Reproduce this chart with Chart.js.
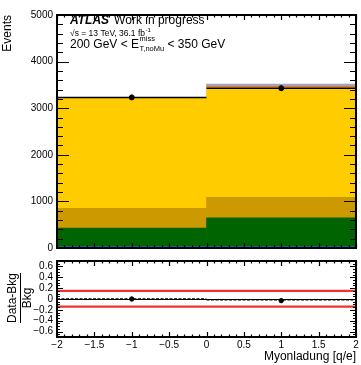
<!DOCTYPE html>
<html>
<head>
<meta charset="utf-8">
<style>
  body { margin: 0; background: #fff; }
  #wrap { position: relative; width: 361px; height: 365px; }
  #top { position: absolute; left: 0; top: 0; }
  #bottom { position: absolute; left: 0; top: 250px; }
</style>
</head>
<body>
<div id="wrap">
  <canvas id="top" width="361" height="258"></canvas>
  <canvas id="bottom" width="361" height="115"></canvas>
</div>

<script src="https://cdn.jsdelivr.net/npm/chart.js@4"></script>
<script>
// binning
const binEdges = [-2, 0, 2];
const binCenters = [-1, 1];

// stacked backgrounds, bottom to top (events per bin)
const bkgBlue = [30, 30];
const bkgGreen = [400, 615];
const bkgGold = [420, 440];
const bkgYellow = [2370, 2360];
const bkgRed = [3, 25];
const bkgGray = [2, 45];

// data
const dataValues = [3232, 3430];
const dataErrors = [57, 59];

// ratio panel
const ratioValues = [0.0, -0.03];
const ratioErrors = [0.018, 0.018];
const ratioLine = [0.0, -0.012];
const bandUp = [0.15, 0.15];
const bandDown = [-0.14, -0.14];

// ticks
const xTicks = [-2, -1.5, -1, -0.5, 0, 0.5, 1, 1.5, 2];
const yTicks = [0, 1000, 2000, 3000, 4000, 5000];
const ratioTicks = [-0.6, -0.4, -0.2, 0, 0.2, 0.4, 0.6];

const FONT = "'Liberation Sans', Arial, Helvetica, sans-serif";
Chart.defaults.font.family = FONT;
Chart.defaults.color = '#000';

function fmt(v) {
  if (Math.abs(v) < 1e-9) return '0';
  return String(+v.toFixed(2)).replace('-', '\u2212');
}

// horizontal segment per bin, gaps between bins
function binSegments(vals) {
  const pts = [];
  vals.forEach((v, i) => {
    pts.push({x: binEdges[i], y: v});
    pts.push({x: binEdges[i + 1], y: v});
    pts.push({x: binEdges[i + 1], y: null});
  });
  return pts;
}

function minorVals(min, max, step) {
  const out = [];
  const n = Math.round((max - min) / step);
  for (let i = 0; i <= n; i++) out.push(min + i * step);
  return out;
}

// frame + inward ticks on all four sides
function frameTicks(cfg) {
  return {
    id: 'frameTicks',
    afterDatasetsDraw(chart) {
      const {ctx, chartArea: a, scales} = chart;
      const sx = scales.x, sy = scales.y;
      ctx.save();
      ctx.strokeStyle = '#000';
      ctx.lineWidth = 1.2;
      ctx.beginPath();
      const xMin = minorVals(sx.min, sx.max, cfg.xMinor);
      const yMin = minorVals(cfg.yLo, sy.max, cfg.yMinor);
      const drawX = (vals, len) => vals.forEach(v => {
        const p = Math.round(sx.getPixelForValue(v)) + 0.5;
        ctx.moveTo(p, a.bottom); ctx.lineTo(p, a.bottom - len);
        ctx.moveTo(p, a.top); ctx.lineTo(p, a.top + len);
      });
      const drawY = (vals, len) => vals.forEach(v => {
        if (v < sy.min || v > sy.max) return;
        const p = Math.round(sy.getPixelForValue(v)) + 0.5;
        ctx.moveTo(a.left, p); ctx.lineTo(a.left + len, p);
        ctx.moveTo(a.right, p); ctx.lineTo(a.right - len, p);
      });
      drawX(xMin, cfg.xMinorLen);
      drawX(xTicks, cfg.xMajorLen);
      drawY(yMin, cfg.yMinorLen);
      drawY(cfg.yMajor, cfg.yMajorLen);
      ctx.stroke();
      if (cfg.zeroLine) {
        const p = Math.round(sy.getPixelForValue(0)) + 0.5;
        ctx.beginPath();
        ctx.lineWidth = 1;
        ctx.moveTo(a.left, p); ctx.lineTo(a.right, p);
        ctx.stroke();
      }
      ctx.lineWidth = 2;
      ctx.strokeRect(a.left, a.top, a.right - a.left, a.bottom - a.top);
      ctx.restore();
    }
  };
}

const errorBars = {
  id: 'errorBars',
  afterDatasetsDraw(chart) {
    const {ctx} = chart;
    const sy = chart.scales.y;
    chart.data.datasets.forEach((ds, di) => {
      if (!ds.errors) return;
      const meta = chart.getDatasetMeta(di);
      ctx.save();
      ctx.strokeStyle = '#000';
      ctx.lineWidth = 1.5;
      meta.data.forEach((pt, i) => {
        const y = ds.data[i].y, e = ds.errors[i];
        ctx.beginPath();
        ctx.moveTo(pt.x, sy.getPixelForValue(y - e));
        ctx.lineTo(pt.x, sy.getPixelForValue(y + e));
        ctx.stroke();
      });
      ctx.restore();
    });
  }
};

const atlasText = {
  id: 'atlasText',
  afterDraw(chart) {
    const ctx = chart.ctx;
    ctx.save();
    ctx.fillStyle = '#000';
    ctx.textBaseline = 'alphabetic';
    let x = 70;
    ctx.font = 'italic bold 12px ' + FONT;
    ctx.fillText('ATLAS', x, 24);
    x += ctx.measureText('ATLAS').width + 5;
    ctx.font = '12px ' + FONT;
    ctx.fillText('Work in progress', x, 24);

    x = 70;
    ctx.font = '8.5px ' + FONT;
    const l2 = '\u221As = 13 TeV, 36.1 fb';
    ctx.fillText(l2, x, 35.5);
    x += ctx.measureText(l2).width + 0.5;
    ctx.font = '6px ' + FONT;
    ctx.fillText('-1', x, 31.5);

    x = 70;
    ctx.font = '12px ' + FONT;
    ctx.fillText('200 GeV < E', x, 47.5);
    x += ctx.measureText('200 GeV < E').width + 0.5;
    ctx.font = '7.5px ' + FONT;
    ctx.fillText('miss', x, 40.5);
    ctx.fillText('T,noMu', x, 51);
    x += Math.max(ctx.measureText('miss').width, ctx.measureText('T,noMu').width);
    ctx.font = '12px ' + FONT;
    ctx.fillText(' < 350 GeV', x, 47.5);
    ctx.restore();
  }
};

const ratioTitle = {
  id: 'ratioTitle',
  afterDraw(chart) {
    const ctx = chart.ctx;
    ctx.save();
    ctx.fillStyle = '#000';
    ctx.strokeStyle = '#000';
    ctx.font = '12px ' + FONT;
    ctx.textAlign = 'center';
    ctx.textBaseline = 'middle';
    const cy = 48;
    const w = ctx.measureText('Data-Bkg').width;
    ctx.translate(0, cy);
    ctx.rotate(-Math.PI / 2);
    ctx.fillText('Data-Bkg', 0, 13);
    ctx.fillText('Bkg', 0, 28);
    ctx.lineWidth = 1;
    ctx.beginPath();
    ctx.moveTo(-w / 2, 20.5);
    ctx.lineTo(w / 2, 20.5);
    ctx.stroke();
    ctx.restore();
  }
};

function bkgSet(label, vals, color) {
  return {
    label, data: binCenters.map((x, i) => ({x, y: vals[i]})),
    backgroundColor: color, borderWidth: 0,
    stack: 'bkg', order: 1,
    barPercentage: 1, categoryPercentage: 1
  };
}

new Chart(document.getElementById('top'), {
  type: 'bar',
  data: {
    datasets: [
      bkgSet('blue', bkgBlue, '#1e64c8'),
      bkgSet('green', bkgGreen, '#006400'),
      bkgSet('gold', bkgGold, '#cc9900'),
      bkgSet('yellow', bkgYellow, '#ffcc00'),
      bkgSet('red', bkgRed, '#e0705a'),
      bkgSet('gray', bkgGray, '#a4a4b4'),
      {
        type: 'line', label: 'data hist', data: binSegments(dataValues),
        stack: 'dl', order: 0,
        borderColor: '#000', borderWidth: 1.5, pointRadius: 0, spanGaps: false
      },
      {
        type: 'scatter', label: 'data', order: 0, stack: 'dp',
        data: binCenters.map((x, i) => ({x, y: dataValues[i]})),
        errors: dataErrors,
        pointRadius: 2.5, backgroundColor: '#000', borderColor: '#000'
      }
    ]
  },
  options: {
    responsive: false, animation: false, devicePixelRatio: 1,
    layout: {padding: {left: 0, right: 2, top: 15, bottom: 7}},
    plugins: {legend: {display: false}, tooltip: {enabled: false}},
    scales: {
      x: {
        type: 'linear', display: false, min: -2, max: 2, offset: false,
        afterBuildTicks: s => { s.ticks = binEdges.map(v => ({value: v})); }
      },
      y: {
        type: 'linear', stacked: true, min: 0, max: 5000,
        afterBuildTicks: s => { s.ticks = yTicks.map(v => ({value: v})); },
        afterFit: s => { s.width = 57; },
        grid: {display: false, drawTicks: false},
        border: {display: false},
        ticks: {font: {size: 10}, padding: 4, color: '#000', autoSkip: false, callback: v => String(v)},
        title: {display: true, text: 'Events', align: 'end', font: {size: 12}, padding: 0, color: '#000'}
      }
    }
  },
  plugins: [
    frameTicks({xMinor: 0.1, yMinor: 200, yLo: 0, yMajor: yTicks,
      xMajorLen: 5, xMinorLen: 2.5, yMajorLen: 12, yMinorLen: 6}),
    errorBars, atlasText
  ]
});

new Chart(document.getElementById('bottom'), {
  type: 'line',
  data: {
    datasets: [
      {
        type: 'scatter', label: 'ratio', order: 0,
        data: binCenters.map((x, i) => ({x, y: ratioValues[i]})),
        errors: ratioErrors,
        pointRadius: 2.2, backgroundColor: '#000', borderColor: '#000'
      },
      {
        label: 'ratio line', data: binSegments(ratioLine), order: 1,
        borderColor: '#000', borderWidth: 1.5, borderDash: [3, 1.5], pointRadius: 0, spanGaps: false
      },
      {
        label: 'unc up', data: binSegments(bandUp), order: 2,
        borderColor: '#f03232', borderWidth: 2.2, pointRadius: 0, spanGaps: false
      },
      {
        label: 'unc down', data: binSegments(bandDown), order: 2,
        borderColor: '#f03232', borderWidth: 2.2, pointRadius: 0, spanGaps: false
      }
    ]
  },
  options: {
    responsive: false, animation: false, devicePixelRatio: 1,
    layout: {padding: {left: 0, right: 2, top: 11, bottom: 0}},
    plugins: {legend: {display: false}, tooltip: {enabled: false}},
    scales: {
      x: {
        type: 'linear', min: -2, max: 2,
        afterBuildTicks: s => { s.ticks = xTicks.map(v => ({value: v})); },
        afterFit: s => { s.height = 28; },
        grid: {display: false, drawTicks: false},
        border: {display: false},
        ticks: {font: {size: 10}, padding: 2, maxRotation: 0, autoSkip: false, color: '#000', callback: v => fmt(v)},
        title: {display: true, text: 'Myonladung [q/e]', align: 'end', font: {size: 12}, padding: {top: 0, bottom: 1}, color: '#000'}
      },
      y: {
        type: 'linear', min: -0.7, max: 0.7,
        afterBuildTicks: s => { s.ticks = ratioTicks.map(v => ({value: v})); },
        afterFit: s => { s.width = 57; },
        grid: {display: false, drawTicks: false},
        border: {display: false},
        ticks: {font: {size: 10}, padding: 4, color: '#000', autoSkip: false, callback: v => fmt(v)}
      }
    }
  },
  plugins: [
    frameTicks({xMinor: 0.1, yMinor: 0.05, yLo: -0.7, yMajor: ratioTicks,
      xMajorLen: 5, xMinorLen: 2.5, yMajorLen: 6, yMinorLen: 3, zeroLine: true}),
    errorBars, ratioTitle
  ]
});
</script>
</body>
</html>
